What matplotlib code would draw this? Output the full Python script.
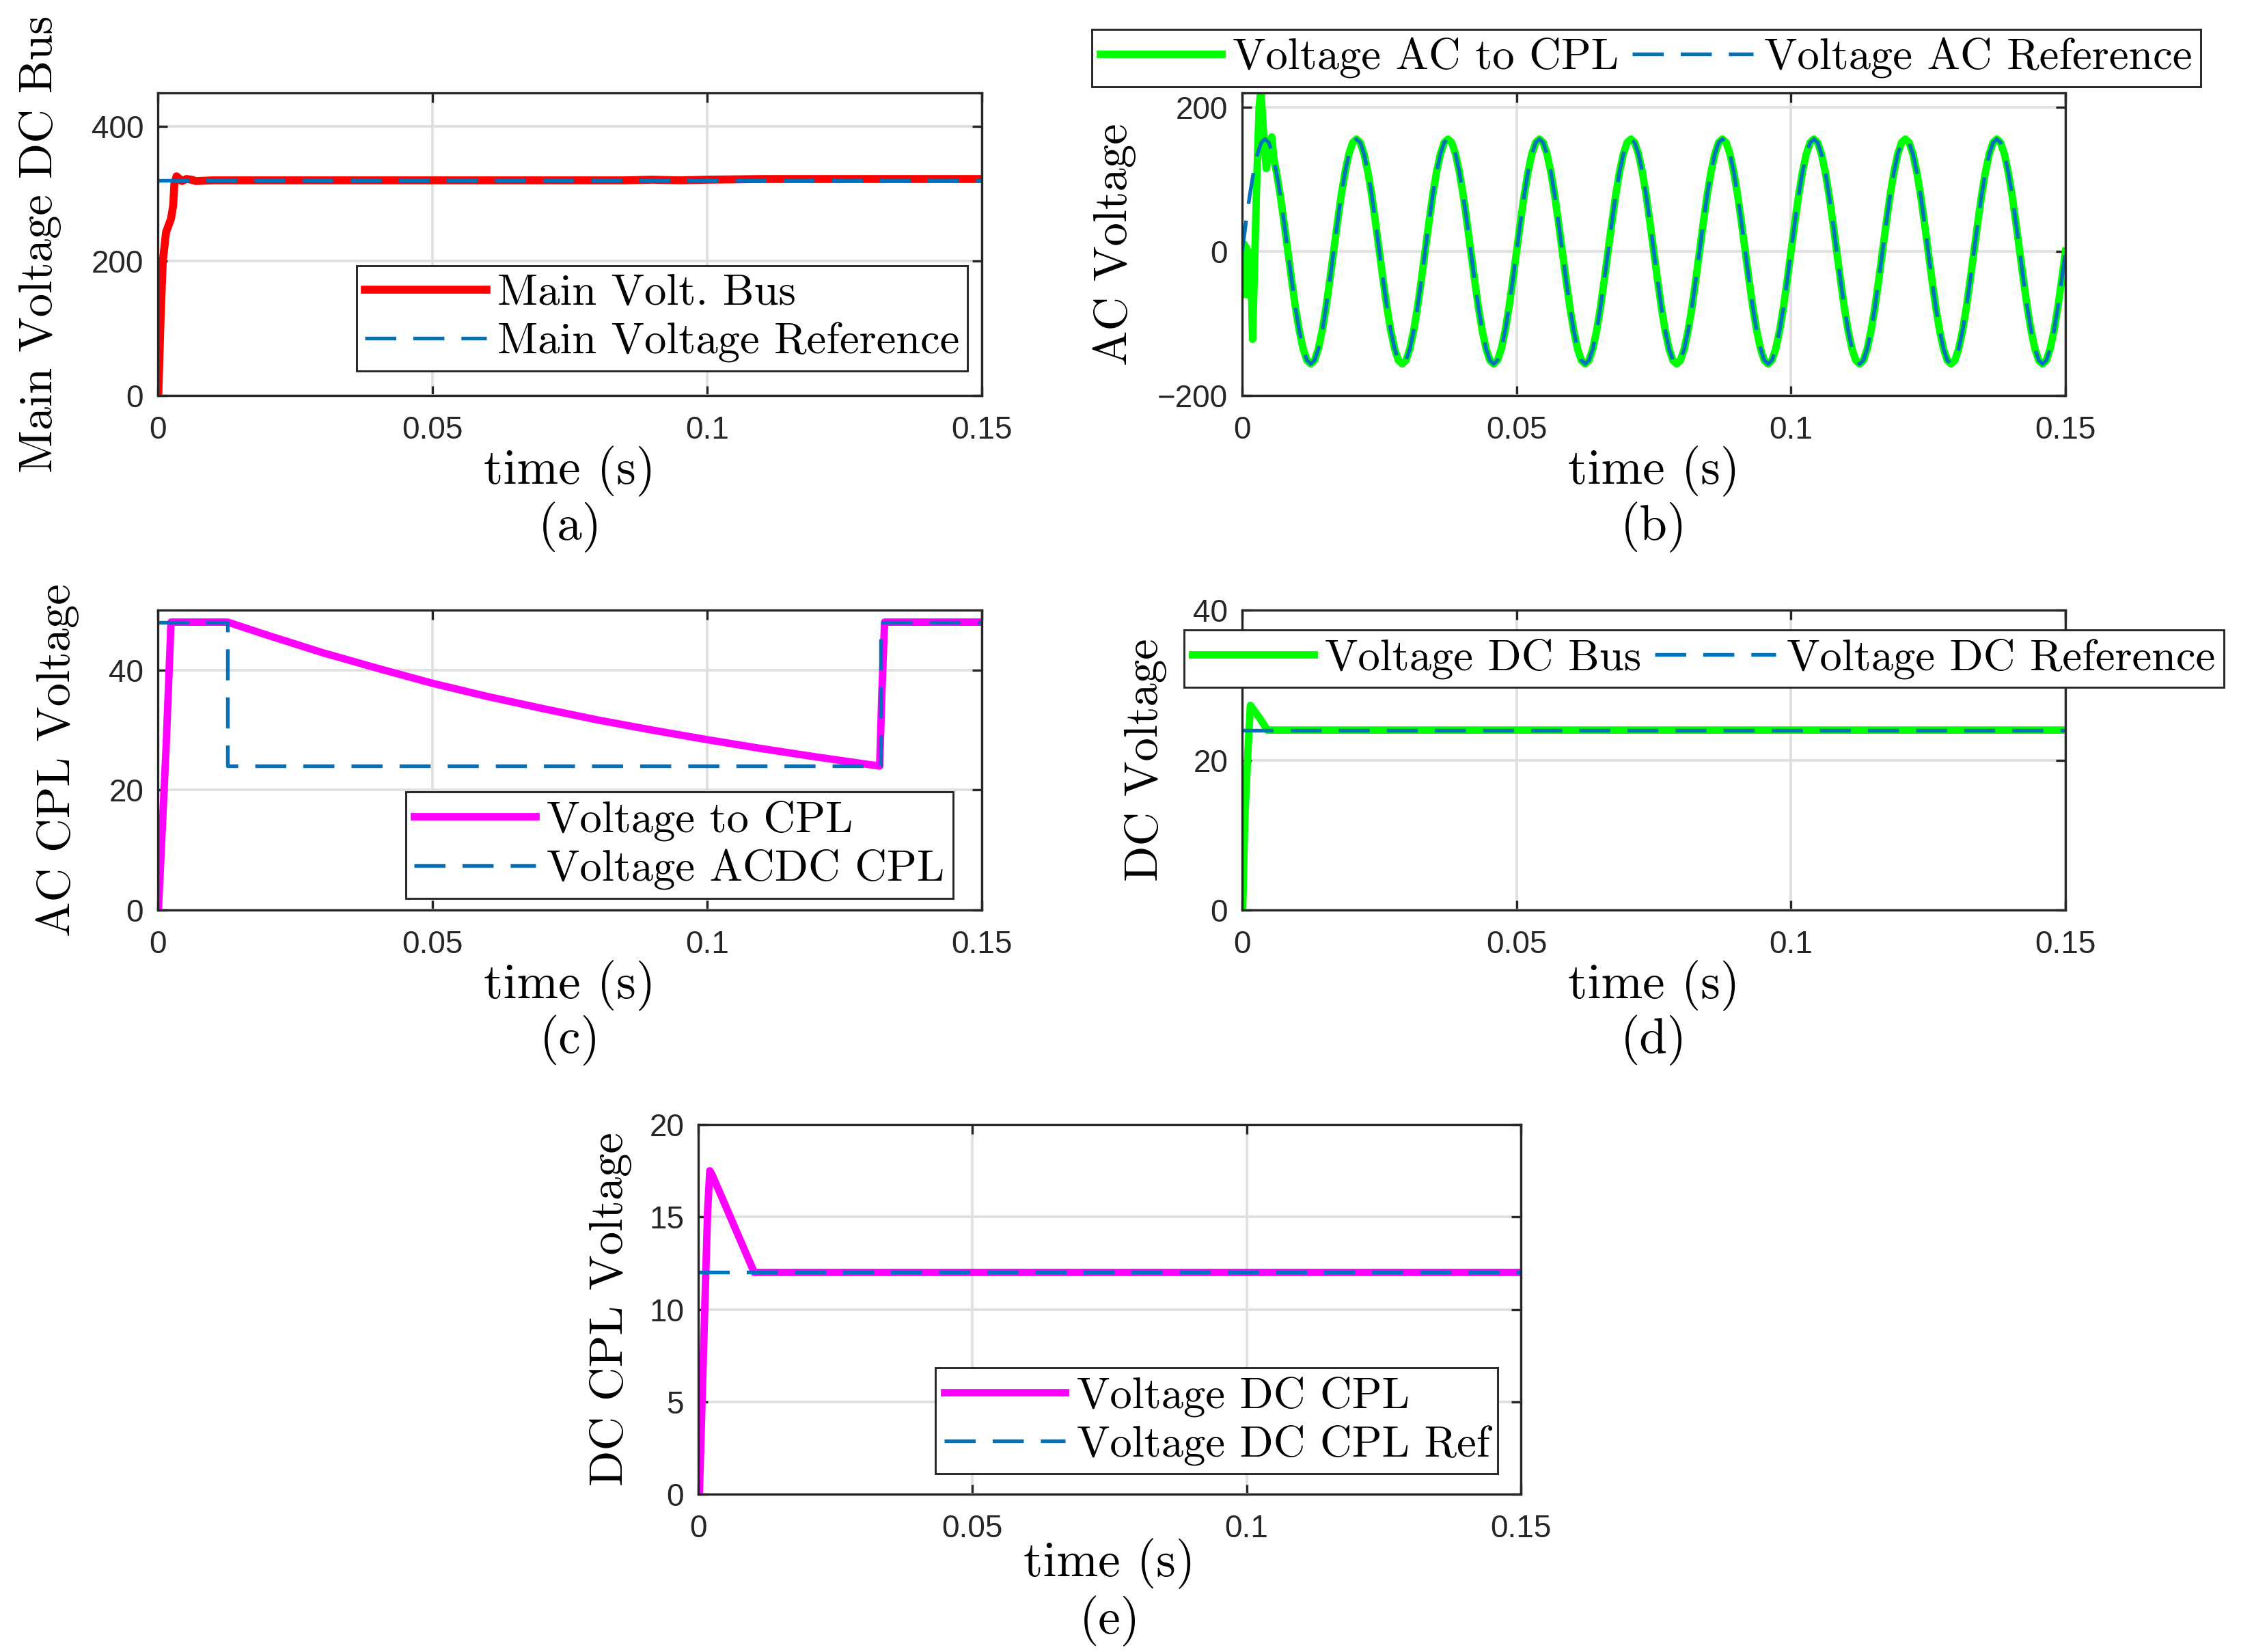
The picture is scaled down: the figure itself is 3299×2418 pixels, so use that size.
import numpy as np
import matplotlib
matplotlib.use('Agg')
import matplotlib.pyplot as plt

plt.rcParams['font.family'] = ['Liberation Sans Narrow', 'Liberation Sans', 'DejaVu Sans']

# ---- data ------------------------------------------------------------------
time_ticks = [0, 0.05, 0.1, 0.15]
time_ticklabels = ['0', '0.05', '0.1', '0.15']

# (a) main DC bus
t_main = [0, 0.0001, 0.0005, 0.0009, 0.0015, 0.0024, 0.0028, 0.0030, 0.0034,
          0.0044, 0.0052, 0.0061, 0.0069, 0.0100, 0.0300, 0.0600, 0.0850,
          0.0900, 0.0950, 0.1000, 0.1100, 0.1200, 0.1350, 0.1500]
v_main = [0, 4, 114, 199, 243, 263, 283, 314, 326,
          319, 322, 321, 319, 320, 320, 320, 320,
          321, 320, 321, 322, 322, 322, 322]
t_main_ref = [0, 0.15]
v_main_ref = [320, 320]

# (b) AC voltage: one 60 Hz cycle read every 1/1440 s, repeated for 9 cycles
ac_cycle = [0, 40, 78, 110, 135, 151, 156, 151, 135, 110, 78, 40,
            0, -40, -78, -110, -135, -151, -156, -151, -135, -110, -78, -40]
n_cycles = 9
t_ac = np.linspace(0, 0.15, len(ac_cycle) * n_cycles + 1)
v_ac_ref = np.array(ac_cycle * n_cycles + [0])
# start-up transient of the AC voltage to the CPL, then it follows the reference
t_ac_start = [0, 0.0002, 0.0004, 0.0006, 0.0008, 0.0010, 0.0012, 0.0014,
              0.0016, 0.0019, 0.0023, 0.0027, 0.0031, 0.0034, 0.0037,
              0.0041, 0.0044, 0.0049, 0.0054, 0.0058]
v_ac_start = [0, -60, 10, -55, 5, -60, 0, -50,
              -20, -122, -10, 110, 200, 224, 190,
              140, 115, 150, 159, 128]
n_join = 9  # first reference sample after the transient

# (c) AC CPL voltage
t_cpl_ac = [0, 0.0001, 0.0015, 0.0024, 0.0127, 0.0200, 0.0300, 0.0400,
            0.0500, 0.0600, 0.0700, 0.0800, 0.0900, 0.1000, 0.1100,
            0.1200, 0.1314, 0.1318, 0.1323, 0.1500]
v_cpl_ac = [0, 0, 27, 48, 48, 45.8, 42.9, 40.3,
            37.8, 35.6, 33.6, 31.7, 30.0, 28.4, 26.9,
            25.5, 24.0, 36, 48, 48]
t_cpl_ac_ref = [0, 0.0127, 0.0127, 0.1316, 0.1316, 0.15]
v_cpl_ac_ref = [48, 48, 24, 24, 48, 48]

# (d) DC bus
t_dc = [0, 0.0001, 0.0005, 0.0011, 0.0015, 0.0032, 0.0046, 0.15]
v_dc = [0, 0, 12.6, 21.7, 27.3, 25.6, 24.0, 24.0]
t_dc_ref = [0, 0.15]
v_dc_ref = [24, 24]

# (e) DC CPL
t_cpl_dc = [0, 0.0002, 0.0010, 0.0017, 0.0021, 0.0025, 0.0102, 0.15]
v_cpl_dc = [0, 0, 8.2, 15.3, 17.5, 17.3, 12.0, 12.0]
t_cpl_dc_ref = [0, 0.15]
v_cpl_dc_ref = [12, 12]

# ---- styling ---------------------------------------------------------------
W, H = 3299, 2418
LAB = 'cmr10'
AXC = '#262626'
BLUE = '#0072BD'
DASH = (0, (8.4, 4.6))
LW = 2.6
LW_REF = 1.3

fig = plt.figure(figsize=(W / 300, H / 300), dpi=300)


def add_ax(x0, y0, x1, y1):
    return fig.add_axes([x0 / W, 1 - y1 / H, (x1 - x0) / W, (y1 - y0) / H])


def style(ax, ylim, yticks, yticklabels, ylabel, tag, ylab_x, xlab_y, tag_y):
    ax.set_xlim(0, 0.15)
    ax.set_ylim(*ylim)
    ax.set_xticks(time_ticks)
    ax.set_xticklabels(time_ticklabels)
    ax.set_yticks(yticks)
    ax.set_yticklabels(yticklabels)
    ax.grid(True, color='#dfdfdf', lw=0.9)
    ax.set_axisbelow(True)
    for s in ax.spines.values():
        s.set_color(AXC)
        s.set_linewidth(0.8)
    ax.tick_params(which='both', direction='in', top=True, right=True,
                   length=3.4, width=0.8, color=AXC, labelcolor=AXC,
                   labelsize=11)
    ax.tick_params(axis='x', pad=7)
    ax.tick_params(axis='y', pad=5)
    ax.set_xlabel('time (s)', fontfamily=LAB, fontsize=17.5, va='center')
    ax.xaxis.set_label_coords(0.5, xlab_y)
    ax.set_ylabel(ylabel, fontfamily=LAB, fontsize=16.5, va='center')
    ax.yaxis.set_label_coords(ylab_x, 0.5)
    ax.text(0.5, tag_y, tag, transform=ax.transAxes, fontfamily=LAB,
            fontsize=17.5, ha='center', va='center')


def legend(ax, loc, anchor, ncol=1):
    leg = ax.legend(loc=loc, bbox_to_anchor=anchor, ncol=ncol,
                    prop={'family': LAB, 'size': 15.5}, handlelength=2.75,
                    handletextpad=0.25, borderpad=0.19, labelspacing=0.18,
                    columnspacing=0.3, borderaxespad=0, fancybox=False,
                    framealpha=1, edgecolor=AXC)
    leg.get_frame().set_linewidth(0.7)
    return leg


# (a)
ax = add_ax(231, 136, 1437, 579)
ax.plot(t_main, v_main, color='#ff0000', lw=2.8, label='Main Volt. Bus')
ax.plot(t_main_ref, v_main_ref, color=BLUE, lw=LW_REF, ls=DASH,
        label='Main Voltage Reference')
style(ax, (0, 450), [0, 200, 400], ['0', '200', '400'],
      'Main Voltage DC Bus', '(a)', -0.143, -0.2506, -0.4357)
legend(ax, 'lower right', (0.983, 0.081))

# (b)
ax = add_ax(1818, 136, 3023, 579)
t_green = np.concatenate([t_ac_start, t_ac[n_join:]])
v_green = np.concatenate([v_ac_start, v_ac_ref[n_join:]])
ax.plot(t_green, v_green, color='#00ff00', lw=LW, label='Voltage AC to CPL')
ax.plot(t_ac, v_ac_ref, color=BLUE, lw=LW_REF, ls=DASH,
        label='Voltage AC Reference')
style(ax, (-200, 220), [-200, 0, 200], ['\u2212200', '0', '200'],
      'AC Voltage', '(b)', -0.155, -0.2506, -0.4357)
legend(ax, 'lower center', (0.491, 1.02), ncol=2)

# (c)
ax = add_ax(231, 893, 1437, 1332)
ax.plot(t_cpl_ac, v_cpl_ac, color='#ff00ff', lw=LW, label='Voltage to CPL')
ax.plot(t_cpl_ac_ref, v_cpl_ac_ref, color=BLUE, lw=LW_REF, ls=DASH,
        label='Voltage ACDC CPL')
style(ax, (0, 50), [0, 20, 40], ['0', '20', '40'],
      'AC CPL Voltage', '(c)', -0.122, -0.2528, -0.435)
legend(ax, 'lower right', (0.965, 0.039))

# (d)
ax = add_ax(1818, 893, 3023, 1332)
ax.plot(t_dc, v_dc, color='#00ff00', lw=LW, label='Voltage DC Bus')
ax.plot(t_dc_ref, v_dc_ref, color=BLUE, lw=LW_REF, ls=DASH,
        label='Voltage DC Reference')
style(ax, (0, 40), [0, 20, 40], ['0', '20', '40'],
      'DC Voltage', '(d)', -0.117, -0.2528, -0.435)
legend(ax, 'upper center', (0.561, 0.934), ncol=2)

# (e)
ax = add_ax(1022, 1646, 2226, 2187)
ax.plot(t_cpl_dc, v_cpl_dc, color='#ff00ff', lw=LW, label='Voltage DC CPL')
ax.plot(t_cpl_dc_ref, v_cpl_dc_ref, color=BLUE, lw=LW_REF, ls=DASH,
        label='Voltage DC CPL Ref')
style(ax, (0, 20), [0, 5, 10, 15, 20], ['0', '5', '10', '15', '20'],
      'DC CPL Voltage', '(e)', -0.106, -0.1885, -0.344)
legend(ax, 'lower right', (0.972, 0.055))

fig.savefig('out.png', dpi=300)
